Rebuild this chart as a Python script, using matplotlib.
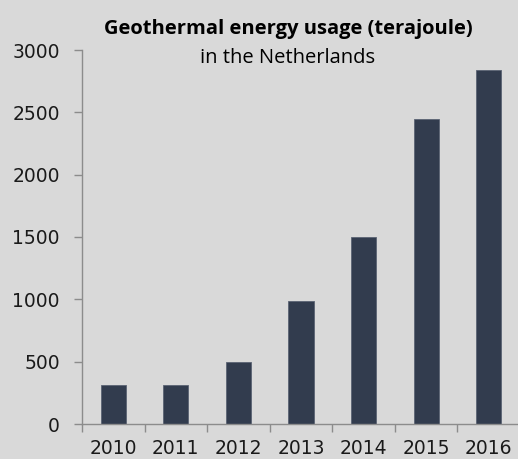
import matplotlib
matplotlib.use("Agg")
import matplotlib.pyplot as plt
import numpy as np

# Geothermal energy usage in the Netherlands (terajoule)
years = ["2010", "2011", "2012", "2013", "2014", "2015", "2016"]
usage = [315, 315, 495, 990, 1500, 2448, 2843]
y_ticks = [0, 500, 1000, 1500, 2000, 2500, 3000]

bg = "#d9d9d9"
bar_color = "#323c4e"
axis_color = "#8c8c8c"

fig = plt.figure(figsize=(5.18, 4.59), dpi=100, facecolor=bg)
ax = fig.add_axes([82 / 518, 35 / 459, 438 / 518, 374 / 459], facecolor=bg)

x = np.arange(len(years))
ax.bar(x, usage, width=0.4, color=bar_color, edgecolor="#5a6373", linewidth=0.6)

ax.set_xlim(-0.5, len(years) - 0.5)
ax.set_ylim(0, 3000)

for side in ["top", "right"]:
    ax.spines[side].set_visible(False)
for side in ["left", "bottom"]:
    ax.spines[side].set_color(axis_color)
    ax.spines[side].set_linewidth(1.0)

ax.set_yticks(y_ticks)
ax.set_yticklabels([str(v) for v in y_ticks])
ax.tick_params(axis="y", length=6, width=1, color=axis_color, pad=10,
               labelsize=13.5, labelcolor="#1a1a1a")

# year labels at bar centres, tick marks at slot boundaries
ax.set_xticks(x)
ax.set_xticklabels(years)
ax.tick_params(axis="x", which="major", length=0, pad=11, labelsize=13.5,
               labelcolor="#1a1a1a")
ax.set_xticks(np.arange(len(years) + 1) - 0.5, minor=True)
ax.tick_params(axis="x", which="minor", length=6, width=1, color=axis_color)

for lbl in ax.get_xticklabels() + ax.get_yticklabels():
    lbl.set_family("DejaVu Sans")

fig.text(288 / 518, 1 - 29 / 459, "Geothermal energy usage (terajoule)",
         ha="center", va="center", fontsize=14.5, fontweight="bold",
         family="Open Sans", color="#000000")
fig.text(288 / 518, 1 - 58 / 459, "in the Netherlands",
         ha="center", va="center", fontsize=14.5,
         family="Open Sans", color="#000000")

fig.savefig("out.png", dpi=100, facecolor=bg)
